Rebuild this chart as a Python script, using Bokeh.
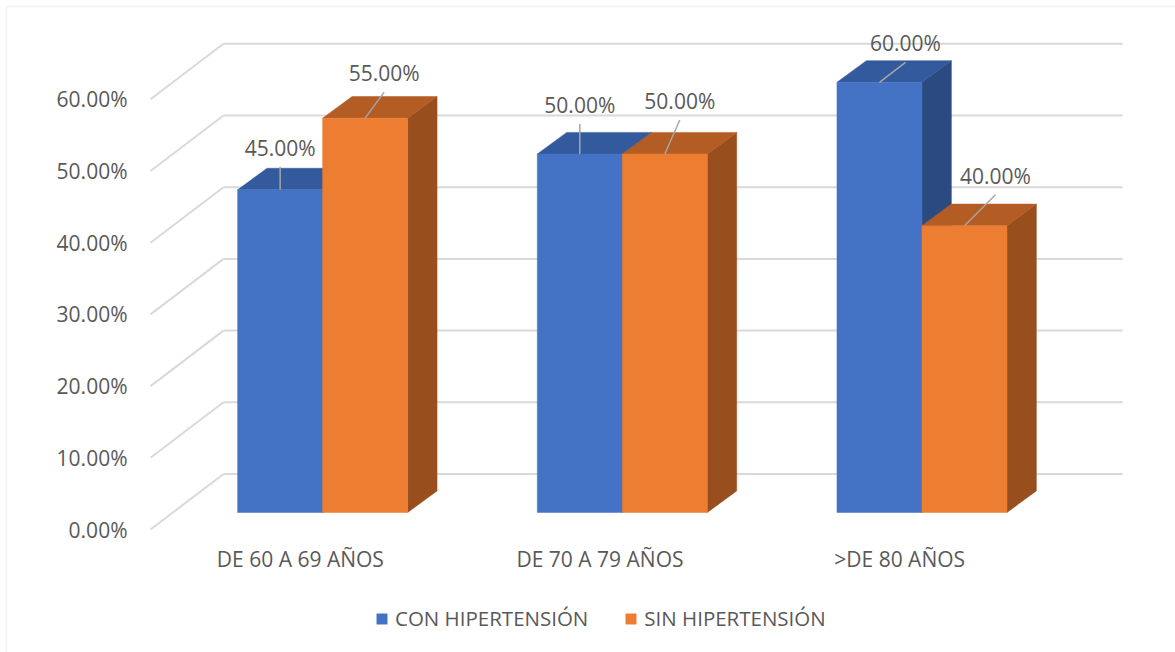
from bokeh.plotting import figure
from bokeh.models import (Range1d, FixedTicker, NumeralTickFormatter, CustomJSTickFormatter,
                          Legend, LegendItem, BoxAnnotation, ColumnDataSource)
from bokeh.core.properties import value
from bokeh.embed import file_html
from bokeh.resources import INLINE

# ---------------- data ----------------
categories = ["DE 60 A 69 AÑOS", "DE 70 A 79 AÑOS", ">DE 80 AÑOS"]
series_names = ["CON HIPERTENSIÓN", "SIN HIPERTENSIÓN"]
con_hipertension = [0.45, 0.50, 0.60]
sin_hipertension = [0.55, 0.50, 0.40]
y_ticks = [0.0, 0.1, 0.2, 0.3, 0.4, 0.5, 0.6]

# ---------------- styling / layout constants ----------------
W, H = 1175, 652
ORIGIN_X = 150         # px of category axis start (front plane)
ORIGIN_Y = 529         # px of 0% on the front plane
PX_PER_X = 899 / 3.0   # px per category unit
PX_PER_Y = 717.0       # px per unit of value (1.0 = 100%)
FONT = "Open Sans"
FS = "21px"
TXT = "#595959"
GRID = "#d9d9d9"
FRONT = ["#4472C4", "#ED7D31"]
TOP = ["#335A9C", "#B35C23"]
SIDE = ["#2B4B80", "#984F1D"]

def ux(px):
    return px / PX_PER_X

def uy(px):
    return px / PX_PER_Y

WALL_DX, WALL_DY = ux(73), uy(55.5)     # full depth of the floor / side wall
FRONT_DX, FRONT_DY = ux(22.3), uy(17)   # depth of bar front plane
BAR_DX, BAR_DY = ux(29.4), uy(21.6)     # depth of each bar
BAR_W = ux(85)
# leader end offsets (px right, px up) from the bar's front-top centre
leader_px = [[(0, 23), (19, 26)], [(0, 30), (15, 34)], [(26, 20), (31, 31)]]
LABEL_RISE = 19

p = figure(width=W, height=H, output_backend="svg", toolbar_location=None, title=None,
           x_range=Range1d(ux(-ORIGIN_X), ux(W - ORIGIN_X)),
           y_range=Range1d(uy(ORIGIN_Y - H), uy(ORIGIN_Y)),
           min_border_left=0, min_border_right=0, min_border_top=0, min_border_bottom=0)
p.outline_line_color = None
p.grid.visible = False
p.background_fill_color = "white"
p.border_fill_color = "white"

# chart border
p.add_layout(BoxAnnotation(left=6, right=1200, top=6, bottom=700,
                           left_units="canvas", right_units="canvas",
                           top_units="canvas", bottom_units="canvas",
                           fill_alpha=0, line_color=GRID, line_width=2, level="underlay"))

# ---------------- back wall gridlines ----------------
n = len(categories)
gx0, gx1, gy = [], [], []
for t in y_ticks:
    gx0.append(0 + WALL_DX); gx1.append(n + WALL_DX); gy.append(t + WALL_DY)
p.segment(x0=gx0, y0=gy, x1=gx1, y1=gy, line_color=GRID, line_width=2)
p.segment(x0=[0] * len(y_ticks), y0=y_ticks, x1=[WALL_DX] * len(y_ticks),
          y1=[t + WALL_DY for t in y_ticks], line_color=GRID, line_width=2)

# ---------------- 3D bars ----------------
series = [con_hipertension, sin_hipertension]
pxs, pys, pcol = [], [], []
fronts = [dict(left=[], right=[], top=[], bottom=[]) for _ in series]
tops_xy = []
for i in range(n):
    cx = i + 0.5
    for s, vals in enumerate(series):
        v = vals[i]
        x0 = cx - BAR_W + s * BAR_W + FRONT_DX
        x1 = x0 + BAR_W
        yb = FRONT_DY
        yt = v + FRONT_DY
        # side face
        pxs.append([x1, x1 + BAR_DX, x1 + BAR_DX, x1])
        pys.append([yb, yb + BAR_DY, yt + BAR_DY, yt])
        pcol.append(SIDE[s])
        # top face
        pxs.append([x0, x1, x1 + BAR_DX, x0 + BAR_DX])
        pys.append([yt, yt, yt + BAR_DY, yt + BAR_DY])
        pcol.append(TOP[s])
        fronts[s]["left"].append(x0); fronts[s]["right"].append(x1)
        fronts[s]["top"].append(yt); fronts[s]["bottom"].append(yb)
        tops_xy.append(((x0 + x1) / 2, yt, v, leader_px[i][s]))

p.patches(xs=pxs, ys=pys, fill_color=pcol, line_color=pcol, line_width=0.5)
front_renderers = []
for s in range(len(series)):
    r = p.quad(source=ColumnDataSource(fronts[s]), left="left", right="right", top="top",
               bottom="bottom", fill_color=FRONT[s], line_color=FRONT[s], line_width=0.5)
    front_renderers.append(r)

# ---------------- data labels with leader lines ----------------
lx0, ly0, lx1, ly1, tx, ty, tt = [], [], [], [], [], [], []
for (fx, fy, v, (ox, oy)) in tops_xy:
    ex, ey = fx + ux(ox), fy + uy(oy)
    lx0.append(fx); ly0.append(fy); lx1.append(ex); ly1.append(ey)
    tx.append(ex); ty.append(ey + uy(LABEL_RISE)); tt.append(f"{v * 100:.2f}%")
p.segment(x0=lx0, y0=ly0, x1=lx1, y1=ly1, line_color="#a6a6a6", line_width=1.5)
p.text(x=tx, y=ty, text=tt, text_font=value(FONT), text_font_size=FS,
       text_color=TXT, text_align="center", text_baseline="middle")

# ---------------- axes (drawn at fixed locations inside the frame) ----------------
yax = p.yaxis[0]
yax.fixed_location = 0
yax.ticker = FixedTicker(ticks=y_ticks)
yax.formatter = NumeralTickFormatter(format="0.00%")
yax.axis_line_color = None
yax.major_tick_line_color = None
yax.minor_tick_line_color = None
yax.major_tick_out = 0
yax.major_tick_in = 0
yax.major_label_standoff = 23
yax.major_label_text_font = FONT
yax.major_label_text_font_size = FS
yax.major_label_text_color = TXT

xax = p.xaxis[0]
xax.fixed_location = 0
xax.ticker = FixedTicker(ticks=[i + 0.5 for i in range(n)])
xax.formatter = CustomJSTickFormatter(args=dict(labels=categories),
                                      code="const i = Math.floor(tick); return labels[i] || '';")
xax.axis_line_color = None
xax.major_tick_line_color = None
xax.minor_tick_line_color = None
xax.major_tick_out = 0
xax.major_tick_in = 0
xax.major_label_standoff = 15
xax.major_label_text_font = FONT
xax.major_label_text_font_size = FS
xax.major_label_text_color = TXT

legend = Legend(items=[LegendItem(label=series_names[s], renderers=[front_renderers[s]])
                       for s in range(len(series))],
                orientation="horizontal", location=(375, 20),
                glyph_width=13, glyph_height=13, label_standoff=7, spacing=36,
                padding=0, margin=0, border_line_color=None, background_fill_alpha=0,
                label_text_font=FONT, label_text_font_size="20.5px", label_text_color=TXT)
p.add_layout(legend, "center")

open("out.html", "w").write(file_html(p, INLINE))
